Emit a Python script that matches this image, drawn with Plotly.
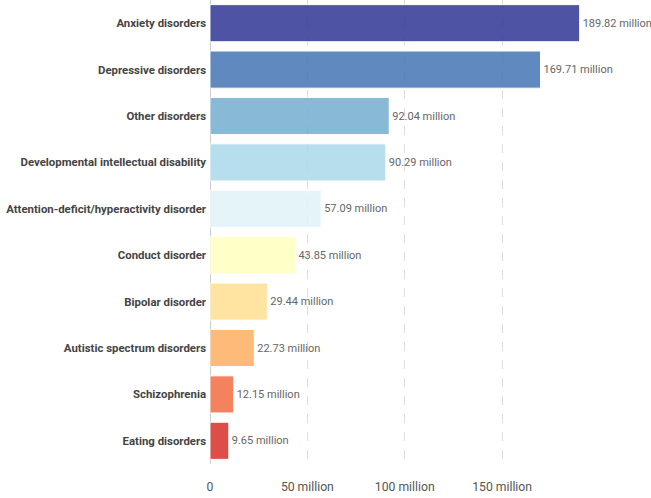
import plotly.graph_objects as go

categories = ["Anxiety disorders", "Depressive disorders", "Other disorders",
              "Developmental intellectual disability",
              "Attention-deficit/hyperactivity disorder", "Conduct disorder",
              "Bipolar disorder", "Autistic spectrum disorders",
              "Schizophrenia", "Eating disorders"]
values = [189.82, 169.71, 92.04, 90.29, 57.09, 43.85, 29.44, 22.73, 12.15, 9.65]
colors = ["#313695", "#4575b4", "#74add1", "#abd9e9", "#e0f3f8",
          "#ffffbf", "#fee090", "#fdae61", "#f46d43", "#d73027"]
tick_vals = [0, 50, 100, 150]
tick_text = ["0", "50 million", "100 million", "150 million"]

FONT = "Roboto, sans-serif"

fig = go.Figure(go.Bar(
    x=values, y=categories, orientation="h",
    marker=dict(color=colors, opacity=0.85, line=dict(color="white", width=1)),
    text=[f"{v:.2f} million" for v in values],
    textposition="outside", cliponaxis=False,
    textfont=dict(family=FONT, size=11, color="#666666"),
    width=0.8,
))
fig.update_layout(
    width=651, height=498,
    margin=dict(l=210, r=71, t=0, b=34),
    paper_bgcolor="white", plot_bgcolor="white",
    showlegend=False,
    font=dict(family=FONT),
)
fig.update_yaxes(autorange="reversed", showgrid=False, ticks="", automargin=False,
                 tickfont=dict(family=FONT, size=11.4, color="#444444"),
                 ticklabelstandoff=3)
fig.update_xaxes(range=[0, 190], tickvals=tick_vals, ticktext=tick_text, automargin=False,
                 showgrid=True, gridcolor="#dddddd", griddash="dash", gridwidth=1,
                 zeroline=True, zerolinecolor="#cccccc", zerolinewidth=1,
                 ticklabelstandoff=14,
                 tickfont=dict(family=FONT, size=12.2, color="#555555"))
fig.update_yaxes(tickprefix="<b>", ticksuffix="</b>")
fig.write_html("out.html")
